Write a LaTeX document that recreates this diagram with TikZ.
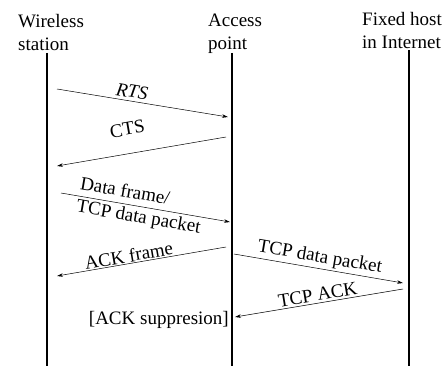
\documentclass[tikz,border=0pt]{standalone}
\usepackage{fontspec}
\setmainfont{Liberation Serif}
\usetikzlibrary{arrows.meta}
\begin{document}
\begin{tikzpicture}[x=1pt,y=-1pt,
  font=\fontsize{19}{23}\selectfont,
  head/.style={anchor=north west, align=left, inner sep=0pt},
  life/.style={line width=1.1pt},
  msg/.style={-{Stealth[length=6pt,width=3.5pt]}, line width=0.5pt},
  lbl/.style={sloped, inner sep=0pt}]
\useasboundingbox (0,0) rectangle (445,366);
% headers
\node[head] (ws) at (18,14) {Wireless\\station};
\node[head] (ap) at (208,14) {Access\\point};
\node[head] (fh) at (362,12) {Fixed host\\in Internet};
% lifelines
\coordinate (wsT) at (47,53);  \coordinate (wsB) at (47,366);
\coordinate (apT) at (232,53); \coordinate (apB) at (232,366);
\coordinate (fhT) at (409,50); \coordinate (fhB) at (409,366);
\draw[life] (wsT) -- (wsB);
\draw[life] (apT) -- (apB);
\draw[life] (fhT) -- (fhB);
% message endpoints
\coordinate (r1) at (57,89);   \coordinate (r2) at (228,117);
\coordinate (c1) at (226,137); \coordinate (c2) at (57,166);
\coordinate (d1) at (61,193);  \coordinate (d2) at (230,222);
\coordinate (a1) at (226,247); \coordinate (a2) at (57,276);
\coordinate (t1) at (234,254); \coordinate (t2) at (403,283);
\coordinate (k1) at (403,289); \coordinate (k2) at (235,317);
% messages
\draw[msg] (r1) -- node[lbl, above=3pt, pos=0.43] (rts) {\itshape RTS} (r2);
\draw[msg] (c1) -- node[lbl, above=18pt, pos=0.56] (cts) {CTS} (c2);
\draw[msg] (d1) -- node[lbl, align=left, pos=0.47] (data) {Data frame/\\TCP data packet} (d2);
\draw[msg] (a1) -- node[lbl, above=1pt, pos=0.568] (ackf) {ACK frame} (a2);
\draw[msg] (t1) -- node[lbl, above=2pt, pos=0.497] (tcpd) {TCP data packet} (t2);
\draw[msg] (k1) -- node[lbl, above=2pt, pos=0.5] (tcpa) {TCP ACK} (k2);
\node[anchor=east, inner sep=0pt] (sup) at (229,320) {[ACK suppresion]};
\end{tikzpicture}
\end{document}
